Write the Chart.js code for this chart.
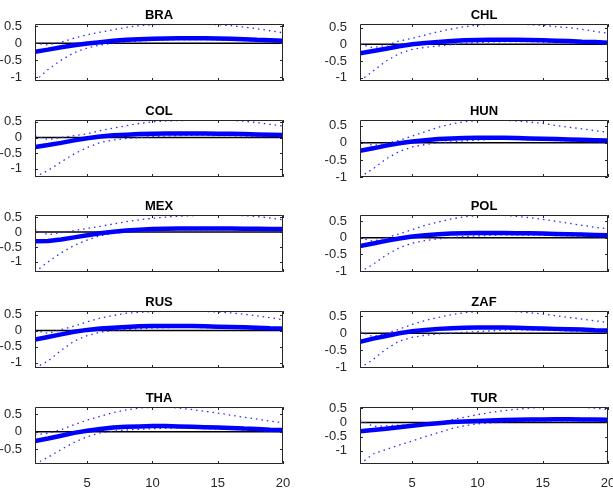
<!DOCTYPE html>
<html>
<head>
<meta charset="utf-8">
<script src="https://cdn.jsdelivr.net/npm/chart.js@4"></script>
<style>
  html, body { margin: 0; padding: 0; background: #fff; }
  #fig { position: relative; width: 613px; height: 489px; overflow: hidden; background: #fff; }
  #fig canvas { position: absolute; }
</style>
</head>
<body>
<div id="fig"></div>
<script>
// horizon (quarters) and axis ticks
const horizon = Array.from({length: 20}, (_, i) => i + 1);
const xTicks = [5, 10, 15, 20];
const yTicks = [-1, -0.5, 0, 0.5];

const countries = ['BRA', 'CHL', 'COL', 'HUN', 'MEX', 'POL', 'RUS', 'ZAF', 'THA', 'TUR'];

// point responses
const braIrf = [-0.25,-0.19,-0.12,-0.06,-0.01,0.03,0.07,0.10,0.12,0.13,0.14,0.15,0.15,0.15,0.14,0.13,0.12,0.10,0.09,0.07];
const chlIrf = [-0.27,-0.20,-0.13,-0.06,0.00,0.04,0.07,0.10,0.12,0.13,0.14,0.14,0.14,0.13,0.12,0.11,0.10,0.08,0.07,0.05];
const colIrf = [-0.30,-0.24,-0.17,-0.09,-0.02,0.03,0.07,0.09,0.11,0.12,0.13,0.13,0.13,0.13,0.12,0.12,0.11,0.10,0.09,0.08];
const hunIrf = [-0.23,-0.16,-0.08,-0.01,0.04,0.08,0.11,0.13,0.14,0.15,0.15,0.15,0.14,0.13,0.12,0.11,0.10,0.09,0.08,0.07];
const mexIrf = [-0.31,-0.30,-0.25,-0.18,-0.11,-0.04,0.01,0.05,0.08,0.10,0.11,0.12,0.12,0.12,0.12,0.12,0.11,0.11,0.10,0.10];
const polIrf = [-0.25,-0.17,-0.09,-0.02,0.04,0.08,0.11,0.13,0.14,0.15,0.15,0.15,0.14,0.14,0.13,0.12,0.11,0.10,0.09,0.08];
const rusIrf = [-0.28,-0.20,-0.12,-0.04,0.02,0.06,0.09,0.11,0.13,0.14,0.14,0.14,0.14,0.13,0.12,0.11,0.10,0.09,0.07,0.06];
const zafIrf = [-0.25,-0.16,-0.08,0.00,0.06,0.10,0.13,0.15,0.16,0.17,0.17,0.17,0.16,0.15,0.14,0.13,0.12,0.11,0.09,0.08];
const thaIrf = [-0.26,-0.19,-0.11,-0.03,0.03,0.08,0.12,0.14,0.15,0.16,0.16,0.15,0.14,0.13,0.12,0.11,0.09,0.08,0.06,0.05];
const turIrf = [-0.31,-0.27,-0.22,-0.17,-0.12,-0.07,-0.03,0.01,0.03,0.05,0.07,0.08,0.09,0.10,0.10,0.11,0.11,0.10,0.10,0.09];

// upper confidence bands
const braUp = [0.00,-0.05,0.03,0.15,0.25,0.33,0.40,0.47,0.52,0.55,0.56,0.57,0.57,0.56,0.55,0.52,0.48,0.43,0.37,0.31];
const chlUp = [0.00,-0.10,-0.03,0.10,0.18,0.28,0.38,0.46,0.53,0.58,0.60,0.61,0.61,0.59,0.57,0.53,0.50,0.45,0.39,0.33];
const colUp = [0.05,-0.06,0.00,0.06,0.12,0.22,0.30,0.38,0.45,0.50,0.53,0.54,0.55,0.56,0.56,0.55,0.52,0.48,0.42,0.37];
const hunUp = [0.07,-0.08,-0.01,0.07,0.20,0.33,0.46,0.55,0.62,0.65,0.67,0.67,0.64,0.61,0.57,0.51,0.46,0.41,0.36,0.31];
const mexUp = [0.08,-0.09,-0.02,0.05,0.12,0.19,0.27,0.35,0.41,0.46,0.50,0.53,0.55,0.56,0.57,0.57,0.55,0.52,0.47,0.41];
const polUp = [0.00,-0.10,0.00,0.12,0.25,0.38,0.48,0.57,0.64,0.67,0.69,0.68,0.65,0.61,0.56,0.50,0.44,0.38,0.32,0.27];
const rusUp = [0.00,-0.09,0.03,0.14,0.27,0.39,0.47,0.54,0.57,0.59,0.60,0.61,0.61,0.60,0.58,0.55,0.51,0.46,0.40,0.34];
const zafUp = [0.05,-0.10,0.00,0.12,0.26,0.38,0.47,0.55,0.61,0.64,0.66,0.66,0.64,0.61,0.57,0.52,0.47,0.42,0.37,0.32];
const thaUp = [-0.08,-0.04,0.06,0.20,0.33,0.44,0.54,0.62,0.67,0.69,0.70,0.67,0.63,0.58,0.53,0.47,0.41,0.36,0.30,0.25];
const turUp = [0.09,-0.14,-0.12,-0.10,-0.07,-0.04,0.00,0.09,0.18,0.27,0.35,0.41,0.46,0.50,0.53,0.54,0.54,0.53,0.50,0.45];

// lower confidence bands
const braLo = [-1.12,-0.78,-0.50,-0.28,-0.14,-0.05,0.00,0.04,0.07,0.09,0.10,0.11,0.11,0.11,0.10,0.09,0.08,0.06,0.05,0.04];
const chlLo = [-1.10,-0.80,-0.50,-0.28,-0.15,-0.09,-0.05,-0.01,0.03,0.05,0.07,0.08,0.08,0.08,0.07,0.06,0.05,0.04,0.03,0.02];
const colLo = [-1.26,-1.05,-0.78,-0.52,-0.32,-0.16,-0.08,-0.03,0.00,0.03,0.05,0.06,0.07,0.07,0.06,0.06,0.05,0.04,0.03,0.02];
const hunLo = [-1.00,-0.76,-0.47,-0.25,-0.12,-0.05,0.00,0.03,0.06,0.08,0.10,0.10,0.10,0.09,0.08,0.07,0.06,0.05,0.04,0.03];
const mexLo = [-1.34,-1.00,-0.70,-0.45,-0.27,-0.12,-0.04,0.00,0.03,0.05,0.07,0.08,0.08,0.08,0.08,0.08,0.07,0.07,0.06,0.06];
const polLo = [-1.03,-0.80,-0.52,-0.30,-0.16,-0.08,-0.03,0.01,0.04,0.06,0.08,0.09,0.09,0.08,0.08,0.07,0.06,0.05,0.04,0.03];
const rusLo = [-1.17,-0.95,-0.62,-0.33,-0.16,-0.05,0.00,0.03,0.06,0.08,0.09,0.10,0.10,0.09,0.09,0.08,0.07,0.05,0.04,0.03];
const zafLo = [-1.03,-0.78,-0.47,-0.23,-0.12,-0.06,-0.02,0.00,0.03,0.05,0.07,0.09,0.10,0.10,0.09,0.08,0.07,0.06,0.05,0.04];
const thaLo = [-0.91,-0.72,-0.50,-0.30,-0.14,-0.03,0.02,0.05,0.07,0.09,0.10,0.11,0.10,0.09,0.08,0.07,0.05,0.04,0.02,0.01];
const turLo = [-1.46,-1.11,-0.95,-0.80,-0.65,-0.50,-0.36,-0.22,-0.12,-0.05,-0.02,0.01,0.03,0.04,0.05,0.05,0.05,0.05,0.05,0.04];

const irfs  = [braIrf, chlIrf, colIrf, hunIrf, mexIrf, polIrf, rusIrf, zafIrf, thaIrf, turIrf];
const uppers = [braUp, chlUp, colUp, hunUp, mexUp, polUp, rusUp, zafUp, thaUp, turUp];
const lowers = [braLo, chlLo, colLo, hunLo, mexLo, polLo, rusLo, zafLo, thaLo, turLo];

// subplot geometry (px)
const colLeft  = [0, 306];
const colWidth = [306, 319];
const plotLeft = [35, 360];
const plotRight = [283, 608];
const rowTop = [24, 120, 215, 311, 407];
const plotH = 57;
const padTop = 24;
const padBottom = 24;

const FONT = '"Liberation Sans", Arial, Helvetica, sans-serif';
const AX = '#262626';

// box, inward tick marks and subplot title
const axesBox = {
  id: 'axesBox',
  afterDatasetsDraw(chart) {
    const {ctx, chartArea: a, scales} = chart;
    ctx.save();
    ctx.strokeStyle = AX;
    ctx.lineWidth = 1;
    ctx.beginPath();
    ctx.rect(Math.round(a.left) + 0.5, Math.round(a.top) + 0.5,
             Math.round(a.right - a.left) - 1, Math.round(a.bottom - a.top) - 1);
    ctx.stroke();
    const len = 3;
    ctx.beginPath();
    scales.x.ticks.forEach(t => {
      const px = Math.round(scales.x.getPixelForValue(t.value)) + 0.5;
      ctx.moveTo(px, a.bottom); ctx.lineTo(px, a.bottom - len);
      ctx.moveTo(px, a.top); ctx.lineTo(px, a.top + len);
    });
    scales.y.ticks.forEach(t => {
      const py = Math.round(scales.y.getPixelForValue(t.value)) + 0.5;
      ctx.moveTo(a.left, py); ctx.lineTo(a.left + len, py);
      ctx.moveTo(a.right, py); ctx.lineTo(a.right - len, py);
    });
    ctx.stroke();
    ctx.fillStyle = '#000';
    ctx.font = 'bold 13px ' + FONT;
    ctx.textAlign = 'center';
    ctx.textBaseline = 'alphabetic';
    ctx.fillText(chart.options.plugins.panelTitle, (a.left + a.right) / 2, a.top - 5);
    ctx.restore();
  }
};

const fig = document.getElementById('fig');

countries.forEach((name, i) => {
  const col = i % 2;
  const row = Math.floor(i / 2);
  const irf = irfs[i], up = uppers[i], lo = lowers[i];
  const yMin = Math.min(...lo);
  const yMax = Math.max(...up);

  const canvas = document.createElement('canvas');
  canvas.width = colWidth[col];
  canvas.height = padTop + plotH + padBottom;
  canvas.style.left = colLeft[col] + 'px';
  canvas.style.top = (rowTop[row] - padTop) + 'px';
  fig.appendChild(canvas);

  const yAxisW = plotLeft[col] - colLeft[col];
  const rightPad = colLeft[col] + colWidth[col] - plotRight[col];

  new Chart(canvas.getContext('2d'), {
    type: 'line',
    data: {
      labels: horizon,
      datasets: [
        {
          data: irf,
          borderColor: '#0000ff',
          borderWidth: 4.5,
          pointRadius: 0,
          tension: 0
        },
        {
          data: up,
          borderColor: '#2b2bff',
          borderWidth: 1.3,
          borderDash: [1.5, 4],
          pointRadius: 0,
          tension: 0
        },
        {
          data: lo,
          borderColor: '#2b2bff',
          borderWidth: 1.3,
          borderDash: [1.5, 4],
          pointRadius: 0,
          tension: 0
        },
        {
          data: horizon.map(() => 0),
          borderColor: '#000',
          borderWidth: 1.5,
          pointRadius: 0,
          tension: 0
        }
      ]
    },
    options: {
      responsive: false,
      animation: false,
      events: [],
      layout: { padding: { top: padTop, right: rightPad, left: 0, bottom: 0 } },
      plugins: {
        legend: { display: false },
        tooltip: { enabled: false },
        title: { display: false },
        panelTitle: name
      },
      scales: {
        x: {
          type: 'linear',
          min: 1,
          max: 20,
          grid: { display: false },
          border: { display: false },
          afterBuildTicks: s => { s.ticks = xTicks.map(v => ({ value: v })); },
          afterFit: s => { s.height = padBottom; },
          ticks: {
            display: row === 4,
            padding: 4,
            color: AX,
            font: { family: FONT, size: 13 },
            maxRotation: 0,
            callback: v => String(v)
          }
        },
        y: {
          min: yMin,
          max: yMax,
          grid: { display: false },
          border: { display: false },
          afterBuildTicks: s => { s.ticks = yTicks.filter(v => v >= yMin && v <= yMax).map(v => ({ value: v })); },
          afterFit: s => { s.width = yAxisW; },
          ticks: {
            padding: 5,
            color: AX,
            font: { family: FONT, size: 13 },
            callback: v => String(v)
          }
        }
      }
    },
    plugins: [axesBox]
  });
});
</script>
</body>
</html>
